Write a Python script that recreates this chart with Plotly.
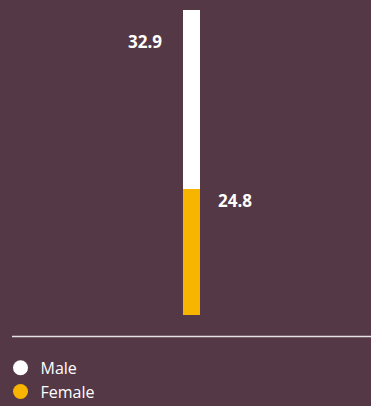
import plotly.graph_objects as go

categories = ["All"]
series_names = ["Female", "Male"]
female_values = [24.8]
male_values = [32.9]
label_female = ["24.8"]
label_male = ["32.9"]

BG = "#553846"
ORANGE = "#F7B500"
WHITE = "#FFFFFF"
FONT = "Open Sans, Noto Sans, sans-serif"

fig = go.Figure()
fig.add_trace(go.Bar(x=categories, y=female_values, name="Female",
                     marker=dict(color=ORANGE, line=dict(width=0)),
                     showlegend=False, hoverinfo="skip"))
fig.add_trace(go.Bar(x=categories, y=male_values, name="Male",
                     marker=dict(color=WHITE, line=dict(width=0)),
                     showlegend=False, hoverinfo="skip"))

# legend entries with circle symbols
fig.add_trace(go.Scatter(x=[None], y=[None], mode="markers", name="Male",
                         marker=dict(color=WHITE, size=15, symbol="circle")))
fig.add_trace(go.Scatter(x=[None], y=[None], mode="markers", name="Female",
                         marker=dict(color=ORANGE, size=15, symbol="circle")))

total = female_values[0] + male_values[0]

fig.add_annotation(x=categories[0], y=total, xref="x", yref="y",
                   text="<b>%s</b>" % label_male[0], showarrow=False,
                   xanchor="right", yanchor="middle", xshift=-28, yshift=-31,
                   font=dict(color=WHITE, size=17, family=FONT))
fig.add_annotation(x=categories[0], y=female_values[0], xref="x", yref="y",
                   text="<b>%s</b>" % label_female[0], showarrow=False,
                   xanchor="left", yanchor="middle", xshift=24, yshift=-12,
                   font=dict(color=WHITE, size=17, family=FONT))

# baseline rule below the bar
fig.add_shape(type="line", xref="paper", yref="paper", x0=0, x1=1,
              y0=-0.0705, y1=-0.0705, line=dict(color="#E6E1E3", width=1.5))

fig.update_layout(
    width=371, height=406,
    margin=dict(l=12, r=0, t=10, b=91),
    paper_bgcolor=BG, plot_bgcolor=BG,
    barmode="stack", bargap=0.9526,
    font=dict(family=FONT, color=WHITE, size=16),
    xaxis=dict(visible=False, range=[-0.5, 0.5]),
    yaxis=dict(visible=False, range=[1.6, total], fixedrange=True),
    legend=dict(orientation="v", xref="paper", yref="container",
                x=-0.032, xanchor="left", y=0.136, yanchor="top",
                bgcolor="rgba(0,0,0,0)", font=dict(size=16, color=WHITE, family=FONT),
                itemsizing="trace", tracegroupgap=0, traceorder="normal"),
    showlegend=True,
)

fig.write_html("out.html")
